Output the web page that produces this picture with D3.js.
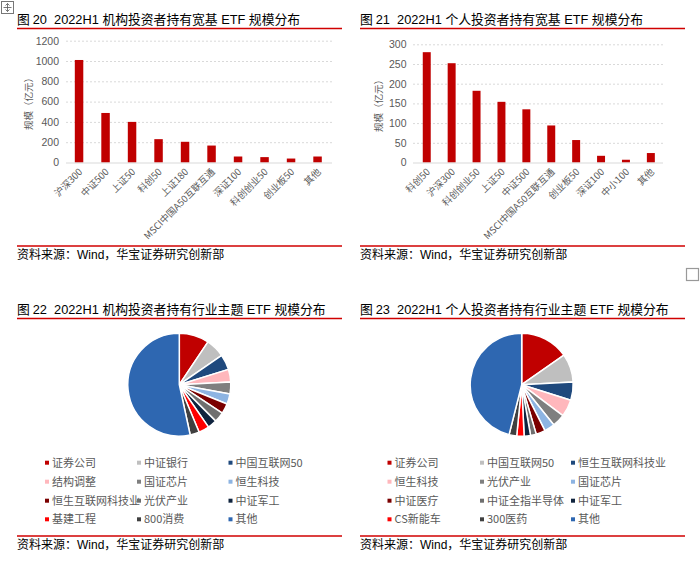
<!DOCTYPE html>
<html><head><meta charset="utf-8">
<script src="https://cdn.jsdelivr.net/npm/d3@7"></script>
<style>
body{margin:0;background:#fff;}
svg{display:block;}
text{white-space:pre;}
</style></head>
<body>
<svg id="c" width="700" height="578"></svg>
<script>
// ---- data ----
const instCats = ["沪深300","中证500","上证50","科创50","上证180","MSCI中国A50互联互通","深证100","科创创业50","创业板50","其他"];
const instVals = [1010, 488, 400, 230, 204, 167, 59, 53, 39, 59];
const instTicks = [0,200,400,600,800,1000,1200];

const indCats = ["科创50","沪深300","科创创业50","上证50","中证500","MSCI中国A50互联互通","创业板50","深证100","中小100","其他"];
const indVals = [280, 252, 182, 154, 135, 94, 57, 17, 7, 24];
const indTicks = [0,50,100,150,200,250,300];

const pieInstCats = ["证券公司","中证银行","中国互联网50","结构调整","国证芯片","恒生科技","恒生互联网科技业","光伏产业","中证军工","基建工程","800消费","其他"];
const pieInstVals = [9.4, 6.0, 4.8, 4.0, 3.7, 3.2, 3.2, 3.2, 2.9, 3.3, 2.9, 53.4];

const pieIndCats = ["证券公司","中国互联网50","恒生互联网科技业","恒生科技","光伏产业","国证芯片","中证医疗","中证全指半导体","中证军工","CS新能车","300医药","其他"];
const pieIndVals = [15.3, 8.9, 5.7, 5.4, 4.0, 3.3, 2.9, 1.8, 2.0, 2.3, 2.4, 46.1];

const pieColors = ["#C00000","#BFBFBF","#1F497D","#FFB7BC","#7F7F7F","#8DB4E2","#7B0000","#6F6F6F","#10243E","#FF0000","#404040","#2E67B1"];

const svg = d3.select("#c");
const CJK = "'Noto Sans CJK SC','Liberation Sans',sans-serif";
const LAT = "'Liberation Sans',Arial,sans-serif";
const txtCol = "#595959";

// Word artifacts
const ic = svg.append("g");
ic.append("rect").attr("x",1.5).attr("y",1.5).attr("width",12).attr("height",12).attr("fill","none").attr("stroke","#777").attr("stroke-width",1);
ic.append("path").attr("d","M7.5,3.5V11.5M3.5,7.5H11.5M5.5,5.5L7.5,3.5L9.5,5.5M5.5,9.5L7.5,11.5L9.5,9.5").attr("fill","none").attr("stroke","#555").attr("stroke-width",0.8);
svg.append("rect").attr("x",686.5).attr("y",268.5).attr("width",12).attr("height",12).attr("fill","none").attr("stroke","#999").attr("stroke-width",1.2);

function title(x, y, num, text, x2){
  const t = svg.append("text").attr("x",x).attr("y",y).attr("font-size",12.8).attr("fill","#000");
  t.append("tspan").attr("font-family",CJK).text("图 ");
  t.append("tspan").attr("font-family",LAT).text(num+"  2022H1 ");
  const parts = text.split("ETF");
  t.append("tspan").attr("font-family",CJK).text(parts[0]);
  t.append("tspan").attr("font-family",LAT).text(" ETF ");
  t.append("tspan").attr("font-family",CJK).text(parts[1].trim());
  svg.append("line").attr("x1",x).attr("x2",x2).attr("y1",y+4.5).attr("y2",y+4.5).attr("stroke","#D00000").attr("stroke-width",1.3);
}
function source(x, y, x2){
  svg.append("line").attr("x1",x).attr("x2",x2).attr("y1",y-13).attr("y2",y-13).attr("stroke","#D00000").attr("stroke-width",1.3);
  const t = svg.append("text").attr("x",x).attr("y",y).attr("font-size",12).attr("fill","#000");
  t.append("tspan").attr("font-family",CJK).text("资料来源：");
  t.append("tspan").attr("font-family",LAT).text("Wind");
  t.append("tspan").attr("font-family",CJK).text("，华宝证券研究创新部");
}

function barChart(cfg){
  const g = svg.append("g");
  const y = d3.scaleLinear().domain([0, cfg.ticks[cfg.ticks.length-1]]).range([cfg.y0, cfg.y1]);
  const x = d3.scaleBand().domain(cfg.cats).range([cfg.xa, cfg.xb]).paddingInner(0.68).paddingOuter(0.34);
  // grid
  g.selectAll("line.grid").data(cfg.ticks.filter(d=>d>0)).join("line")
    .attr("x1",cfg.gx1).attr("x2",cfg.gx2).attr("y1",d=>y(d)+0.5).attr("y2",d=>y(d)+0.5)
    .attr("stroke","#D9D9D9").attr("stroke-dasharray","2,2").attr("stroke-width",1);
  // y axis labels
  const ya = d3.axisLeft(y).tickValues(cfg.ticks).tickFormat(d3.format("d")).tickSize(0).tickPadding(0);
  const yg = g.append("g").attr("transform",`translate(${cfg.ylab},0)`).call(ya);
  yg.select(".domain").remove();
  yg.selectAll("text").attr("font-family",LAT).attr("font-size",10.5).attr("fill",txtCol);
  // bars
  g.selectAll("rect.bar").data(cfg.vals).join("rect")
    .attr("x",(d,i)=>x(cfg.cats[i])).attr("width",x.bandwidth())
    .attr("y",d=>y(d)).attr("height",d=>y(0)-y(d)).attr("fill","#C00000");
  // baseline
  g.append("line").attr("x1",cfg.gx1).attr("x2",cfg.gx2).attr("y1",y(0)+0.5).attr("y2",y(0)+0.5).attr("stroke","#D9D9D9").attr("stroke-width",1);
  // x labels
  const xa = d3.axisBottom(x).tickSize(0).tickPadding(0);
  const xg = g.append("g").attr("transform",`translate(0,${y(0)})`).call(xa);
  xg.select(".domain").remove();
  xg.selectAll("text").attr("font-family",CJK).attr("font-size",9.5).attr("fill",txtCol)
    .attr("text-anchor","end").attr("dy",0).attr("y",0)
    .attr("transform","translate(4,10) rotate(-45)");
  // y title
  g.append("text").attr("transform",`translate(${cfg.ytx},${(cfg.y0+cfg.y1)/2}) rotate(-90)`)
    .attr("text-anchor","middle").attr("font-family",CJK).attr("font-size",9.5).attr("fill",txtCol).text("规模（亿元）");
}

title(17, 24, "20", "机构投资者持有宽基ETF规模分布", 342);
barChart({cats:instCats, vals:instVals, ticks:instTicks, y0:162.5, y1:40.7, xa:65.8, xb:330.8, gx1:66, gx2:332, ylab:59, ytx:32});
source(17, 259, 342);

title(360, 24, "21", "个人投资者持有宽基ETF规模分布", 685);
barChart({cats:indCats, vals:indVals, ticks:indTicks, y0:162.5, y1:44.3, xa:414.3, xb:663.3, gx1:413, gx2:663, ylab:406.5, ytx:382});
source(360, 259, 685);

function pieChart(cfg){
  const g = svg.append("g").attr("transform",`translate(${cfg.cx},${cfg.cy})`);
  const pie = d3.pie().sort(null).value(d=>d);
  const arc = d3.arc().innerRadius(0).outerRadius(cfg.r);
  g.selectAll("path").data(pie(cfg.vals)).join("path")
    .attr("d",arc).attr("fill",(d,i)=>pieColors[i]).attr("stroke","#fff").attr("stroke-width",1.5).attr("stroke-linejoin","round");
  // legend
  const lg = svg.append("g");
  cfg.cats.forEach((c,i)=>{
    const col = i%3, row = Math.floor(i/3);
    const lx = cfg.lx[col], ly = cfg.ly[row];
    lg.append("rect").attr("x",lx-2).attr("y",ly-2).attr("width",4).attr("height",4).attr("fill",pieColors[i]);
    lg.append("text").attr("x",lx+5).attr("y",ly+4).attr("font-family",CJK).attr("font-size",11).attr("fill",txtCol).text(c);
  });
}

title(17, 314, "22", "机构投资者持有行业主题ETF规模分布", 342);
pieChart({cx:179.3, cy:384.7, r:51.5, vals:pieInstVals, cats:pieInstCats, lx:[47,139,230.5], ly:[462.7,481.7,500.7,519.3]});
source(17, 549, 342);

title(360, 314, "23", "个人投资者持有行业主题ETF规模分布", 685);
pieChart({cx:521.7, cy:384.7, r:51.5, vals:pieIndVals, cats:pieIndCats, lx:[389.5,482,573], ly:[462.7,481.7,500.7,519.3]});
source(360, 549, 685);
</script>
</body></html>
